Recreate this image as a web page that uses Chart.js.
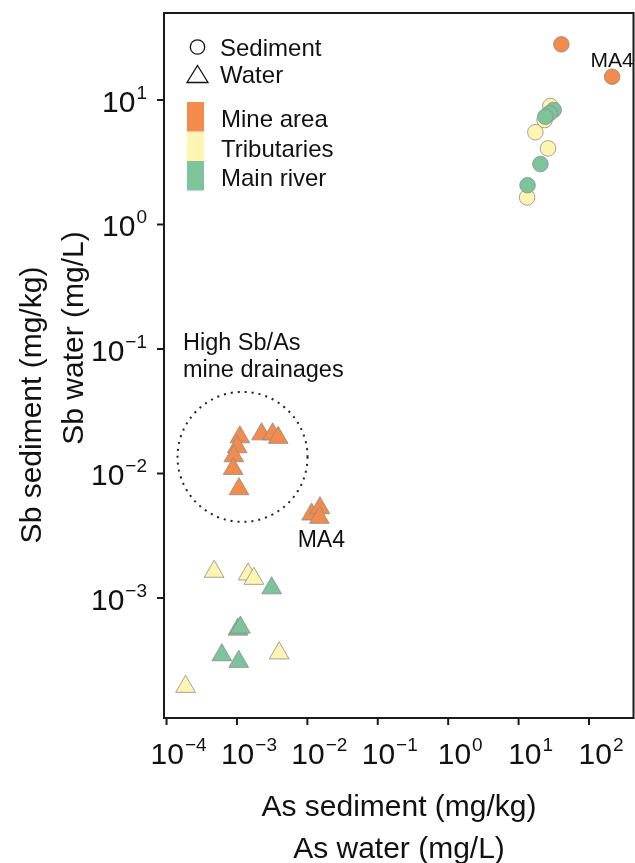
<!DOCTYPE html>
<html>
<head>
<meta charset="utf-8">
<script src="https://cdn.jsdelivr.net/npm/chart.js@4/dist/chart.umd.min.js"></script>
<style>
  html, body { margin: 0; padding: 0; background: #fff; }
  canvas { display: block; }
</style>
</head>
<body>
<canvas id="chart" width="635" height="863"></canvas>
<script>
const FONT = '"Liberation Sans", Arial, Helvetica, sans-serif';

// Sediment samples: As (mg/kg) against Sb (mg/kg)
const sedMineAs = [40.5, 213];
const sedMineSb = [28.0, 15.4];
const sedTribAs = [28.3, 23.4, 17.3, 26.2, 13.2];
const sedTribSb = [8.95, 6.9, 5.51, 4.09, 1.65];
const sedMainAs = [31.5, 27.6, 24.0, 20.4, 13.4];
const sedMainSb = [8.32, 7.82, 7.35, 3.06, 2.07];

// Water samples: As (mg/L) against Sb (mg/L)
const watMineAs = [0.0011, 0.00101, 0.000903, 0.000883, 0.00107, 0.00224, 0.00321, 0.00385, 0.0115, 0.0151, 0.0148];
const watMineSb = [0.0196, 0.0163, 0.0138, 0.0109, 0.0075, 0.0207, 0.0207, 0.0194, 0.0047, 0.00528, 0.00442];
const watTribAs = [0.000474, 0.00144, 0.00174, 0.00398, 0.000186];
const watTribSb = [0.00163, 0.00155, 0.00143, 0.00036, 0.000194];
const watMainAs = [0.00311, 0.00103, 0.00112, 0.00061, 0.00106];
const watMainSb = [0.0012, 0.000559, 0.00058, 0.000348, 0.000308];

// Axis ticks (powers of ten) and limits
const xTicks = [1e-4, 1e-3, 1e-2, 1e-1, 1, 10, 100];
const yTicks = [1e-3, 1e-2, 1e-1, 1, 10];
const xLimits = [Math.pow(10, -4.036), Math.pow(10, 2.639)];
const yLimits = [Math.pow(10, -3.964), Math.pow(10, 1.699)];

// Labelled samples and the drainage group outline
const ma4Sediment = { x: 213, y: 15.4 };
const ma4Water = { x: 0.0148, y: 0.00442 };
const drainageCentre = { x: 0.0012, y: 0.0136 };

const groupNames = ['Mine area', 'Tributaries', 'Main river'];
const groupColours = ['#F28B4B', '#FFF5B2', '#7EC49A'];
const EDGE = '#8c8c8c';

const pts = (xs, ys) => xs.map((x, i) => ({ x: x, y: ys[i] }));

function series(label, xs, ys, colour, shape, order) {
  const isCircle = shape === 'circle';
  return {
    label: label,
    data: pts(xs, ys),
    pointStyle: shape,
    pointRadius: isCircle ? 7.8 : 11.4,
    pointHoverRadius: isCircle ? 7.8 : 11.4,
    backgroundColor: colour,
    borderColor: EDGE,
    borderWidth: 0.8,
    order: order
  };
}

function powLabel(ctx, tick, x, yMid, align) {
  const e = Math.round(Math.log10(tick));
  const expStr = e < 0 ? '\u2212' + Math.abs(e) : String(e);
  const B = 30, E = 19;
  ctx.font = B + 'px ' + FONT;
  const wb = ctx.measureText('10').width;
  ctx.font = E + 'px ' + FONT;
  const we = ctx.measureText(expStr).width;
  const total = wb + 1 + we;
  const left = align === 'right' ? x - total : x - total / 2;
  ctx.fillStyle = '#111';
  ctx.textAlign = 'left';
  ctx.textBaseline = 'alphabetic';
  ctx.font = B + 'px ' + FONT;
  ctx.fillText('10', left, yMid + 0.358 * B);
  ctx.font = E + 'px ' + FONT;
  ctx.fillText(expStr, left + wb + 1, yMid - 9 + 0.358 * E);
}

function textAt(ctx, str, x, yMid, size, align) {
  ctx.font = size + 'px ' + FONT;
  ctx.textAlign = align || 'left';
  ctx.textBaseline = 'alphabetic';
  ctx.fillStyle = '#111';
  ctx.fillText(str, x, yMid + 0.358 * size);
}

const frame = {
  id: 'frame',
  afterDatasetsDraw(chart) {
    const ctx = chart.ctx;
    const a = chart.chartArea;
    const xs = chart.scales.x, ys = chart.scales.y;
    ctx.save();

    // dotted outline around the high Sb/As drainages
    const cx = xs.getPixelForValue(drainageCentre.x);
    const cy = ys.getPixelForValue(drainageCentre.y);
    ctx.strokeStyle = '#222';
    ctx.lineWidth = 2;
    ctx.setLineDash([2, 5]);
    ctx.beginPath();
    ctx.arc(cx, cy, 65, 0, Math.PI * 2);
    ctx.stroke();
    ctx.setLineDash([]);

    // plot box
    ctx.strokeStyle = '#1a1a1a';
    ctx.lineWidth = 2;
    ctx.strokeRect(a.left, a.top, a.right - a.left - 0.5, a.bottom - a.top);

    // tick marks and labels
    ctx.lineWidth = 2;
    xTicks.forEach(t => {
      const px = xs.getPixelForValue(t);
      ctx.beginPath();
      ctx.moveTo(px, a.bottom);
      ctx.lineTo(px, a.bottom + 7);
      ctx.stroke();
      powLabel(ctx, t, px + 12, 753, 'center');
    });
    yTicks.forEach(t => {
      const py = ys.getPixelForValue(t);
      ctx.beginPath();
      ctx.moveTo(a.left - 7, py);
      ctx.lineTo(a.left, py);
      ctx.stroke();
      powLabel(ctx, t, 147, py + 1, 'right');
    });

    // axis titles
    const midX = (a.left + a.right) / 2;
    textAt(ctx, 'As sediment (mg/kg)', midX, 805, 30, 'center');
    textAt(ctx, 'As water (mg/L)', midX, 847, 30, 'center');
    ctx.save();
    ctx.translate(30, 405);
    ctx.rotate(-Math.PI / 2);
    textAt(ctx, 'Sb sediment (mg/kg)', 0, 0, 30, 'center');
    ctx.restore();
    ctx.save();
    ctx.translate(72, 338);
    ctx.rotate(-Math.PI / 2);
    textAt(ctx, 'Sb water (mg/L)', 0, 0, 30, 'center');
    ctx.restore();

    // annotations
    textAt(ctx, 'High Sb/As', 183, 342, 23.5);
    textAt(ctx, 'mine drainages', 183, 369, 23.5);
    textAt(ctx, 'MA4', xs.getPixelForValue(ma4Sediment.x), 59, 21, 'center');
    textAt(ctx, 'MA4', xs.getPixelForValue(ma4Water.x) + 2, 539, 23, 'center');

    // legend: sample type
    ctx.strokeStyle = '#111';
    ctx.lineWidth = 1.3;
    ctx.beginPath();
    ctx.arc(197.5, 47, 7.2, 0, Math.PI * 2);
    ctx.stroke();
    ctx.beginPath();
    ctx.moveTo(197.5, 65.5);
    ctx.lineTo(208, 82.5);
    ctx.lineTo(187, 82.5);
    ctx.closePath();
    ctx.stroke();
    textAt(ctx, 'Sediment', 220, 47, 24);
    textAt(ctx, 'Water', 220, 74, 24);

    // legend: sampling area
    const rowTop = [102, 132, 161];
    groupNames.forEach((name, i) => {
      ctx.fillStyle = groupColours[i];
      ctx.fillRect(187, rowTop[i], 17, 29.5);
      textAt(ctx, name, 221, rowTop[i] + 16, 24);
    });

    ctx.restore();
  }
};

new Chart(document.getElementById('chart'), {
  type: 'scatter',
  data: {
    datasets: [
      series('Main river sediment', sedMainAs, sedMainSb, groupColours[2], 'circle', 1),
      series('Main river water', watMainAs, watMainSb, groupColours[2], 'triangle', 1),
      series('Tributaries sediment', sedTribAs, sedTribSb, groupColours[1], 'circle', 2),
      series('Tributaries water', watTribAs, watTribSb, groupColours[1], 'triangle', 2),
      series('Mine area sediment', sedMineAs, sedMineSb, groupColours[0], 'circle', 3),
      series('Mine area water', watMineAs, watMineSb, groupColours[0], 'triangle', 3)
    ]
  },
  options: {
    responsive: false,
    animation: false,
    devicePixelRatio: 1,
    layout: { autoPadding: false, padding: { top: 13, right: 1, bottom: 0, left: 0 } },
    plugins: { legend: { display: false }, tooltip: { enabled: false } },
    scales: {
      x: {
        type: 'logarithmic', min: xLimits[0], max: xLimits[1],
        grid: { display: false }, border: { display: false }, ticks: { display: false },
        afterFit: s => { s.height = 145; s.paddingLeft = 0; s.paddingRight = 0; }
      },
      y: {
        type: 'logarithmic', min: yLimits[0], max: yLimits[1],
        grid: { display: false }, border: { display: false }, ticks: { display: false },
        afterFit: s => { s.width = 164; s.paddingTop = 0; s.paddingBottom = 0; }
      }
    }
  },
  plugins: [frame]
});
</script>
</body>
</html>
